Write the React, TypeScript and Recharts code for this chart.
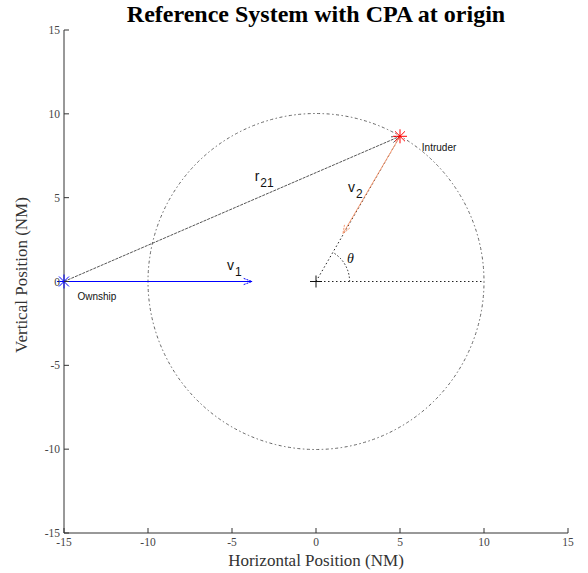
import {
  ComposedChart,
  XAxis,
  YAxis,
  Scatter,
  ReferenceLine,
  ReferenceDot,
} from "recharts";

document.body.style.margin = "0";

const xTicks = [-15, -10, -5, 0, 5, 10, 15];
const yTicks = [-15, -10, -5, 0, 5, 10, 15];

const ownship = [{ x: -15, y: 0 }];
const intruder = [{ x: 5, y: 8.66 }];
const cpaOrigin = [{ x: 0, y: 0 }];

const cpaRadius = 10;
const thetaRadius = 2;
const thetaDeg = 60;

const v1End = { x: -3.8, y: 0 };
const v2End = { x: 1.6, y: 2.85 };

const plainLabels = [
  { x: -14.2, y: -1.1, text: "Ownship" },
  { x: 6.3, y: 7.8, text: "Intruder" },
];

const vectorLabels = [
  { x: -3.65, y: 6.0, main: "r", sub: "21" },
  { x: 1.9, y: 5.35, main: "v", sub: "2" },
  { x: -5.3, y: 0.7, main: "v", sub: "1" },
];

const thetaLabel = { x: 1.85, y: 1.1, text: "θ" };

const SERIF = "'Liberation Serif', 'Times New Roman', serif";
const SANS = "'Liberation Sans', Arial, sans-serif";
const AXIS = "#333";
const TICK_TEXT = "#444";

const XTick = (props: any) => {
  const { x, y, payload } = props;
  return (
    <g>
      <line x1={x} y1={y} x2={x} y2={y - 5} stroke={AXIS} />
      <text x={x} y={y + 13} textAnchor="middle" fontSize={11.5} fontFamily={SERIF} fill={TICK_TEXT}>
        {payload.value}
      </text>
    </g>
  );
};

const YTick = (props: any) => {
  const { x, y, payload } = props;
  return (
    <g>
      <line x1={x} y1={y} x2={x + 5} y2={y} stroke={AXIS} />
      <text x={x - 4} y={y + 4} textAnchor="end" fontSize={11.5} fontFamily={SERIF} fill={TICK_TEXT}>
        {payload.value}
      </text>
    </g>
  );
};

const asterisk = (color: string, s: number) => (props: any) => {
  const { cx, cy } = props;
  const d = s * 0.71;
  return (
    <g>
      <line x1={cx - s} y1={cy} x2={cx + s} y2={cy} stroke={color} />
      <line x1={cx} y1={cy - s} x2={cx} y2={cy + s} stroke={color} />
      <line x1={cx - d} y1={cy - d} x2={cx + d} y2={cy + d} stroke={color} />
      <line x1={cx - d} y1={cy + d} x2={cx + d} y2={cy - d} stroke={color} />
    </g>
  );
};

const plusShape = (props: any) => {
  const { cx, cy } = props;
  return (
    <g>
      <line x1={cx - 6} y1={cy} x2={cx + 6} y2={cy} stroke="#111" />
      <line x1={cx} y1={cy - 6} x2={cx} y2={cy + 6} stroke="#111" />
    </g>
  );
};

const arrow =
  (color: string, dash: string | undefined, headDash: string | undefined) =>
  (props: any) => {
    const { x1, y1, x2, y2 } = props;
    const ang = Math.atan2(y2 - y1, x2 - x1);
    const len = 9;
    const spread = 0.35;
    const ax = x2 - len * Math.cos(ang - spread);
    const ay = y2 - len * Math.sin(ang - spread);
    const bx = x2 - len * Math.cos(ang + spread);
    const by = y2 - len * Math.sin(ang + spread);
    return (
      <g fill="none">
        <line x1={x1} y1={y1} x2={x2} y2={y2} stroke={color} strokeDasharray={dash} />
        <line x1={ax} y1={ay} x2={x2} y2={y2} stroke={color} strokeDasharray={headDash} />
        <line x1={bx} y1={by} x2={x2} y2={y2} stroke={color} strokeDasharray={headDash} />
      </g>
    );
  };

const dottedLine = (props: any) => {
  const { x1, y1, x2, y2 } = props;
  return <line x1={x1} y1={y1} x2={x2} y2={y2} stroke="#222" strokeDasharray="1.5 2.5" />;
};

const circleShape = (props: any) => {
  const { x1, y1, x2 } = props;
  return (
    <circle cx={x1} cy={y1} r={Math.abs(x2 - x1)} fill="none" stroke="#666" strokeDasharray="1.5 2.5 3 2.5" />
  );
};

const arcShape = (props: any) => {
  const { x1, y1, x2 } = props;
  const r = Math.abs(x2 - x1);
  const a = (thetaDeg * Math.PI) / 180;
  return (
    <path
      d={`M ${x1 + r} ${y1} A ${r} ${r} 0 0 0 ${x1 + r * Math.cos(a)} ${y1 - r * Math.sin(a)}`}
      fill="none"
      stroke="#222"
      strokeDasharray="1.5 2"
    />
  );
};

const textShape = (text: string) => (props: any) => (
  <text x={props.cx} y={props.cy} fontSize={10} fontFamily={SANS} fill="#111">
    {text}
  </text>
);

const vectorTextShape = (main: string, sub: string) => (props: any) => (
  <text x={props.cx} y={props.cy} fontSize={14} fontFamily={SANS} fill="#111">
    {main}
    <tspan dx={1} dy={6} fontSize={12}>
      {sub}
    </tspan>
  </text>
);

const thetaShape = (props: any) => (
  <text x={props.cx} y={props.cy} fontSize={14} fontStyle="italic" fontFamily={SERIF} fill="#111">
    {thetaLabel.text}
  </text>
);

export default function App() {
  return (
    <div style={{ position: "relative", width: 588, height: 573, background: "#fff" }}>
      <ComposedChart
        width={588}
        height={573}
        margin={{ top: 30, right: 20, bottom: 0, left: 0 }}
        style={{ position: "absolute", top: 0, left: 0 }}
      >
        <XAxis
          type="number"
          dataKey="x"
          domain={[-15, 15]}
          ticks={xTicks}
          height={40}
          tickSize={0}
          tickMargin={0}
          tickLine={false}
          tick={<XTick />}
          axisLine={{ stroke: AXIS }}
        />
        <YAxis
          type="number"
          dataKey="y"
          domain={[-15, 15]}
          ticks={yTicks}
          width={64}
          tickSize={0}
          tickMargin={0}
          tickLine={false}
          tick={<YTick />}
          axisLine={{ stroke: AXIS }}
        />
        <ReferenceLine
          segment={[cpaOrigin[0], { x: cpaRadius, y: 0 }]}
          shape={circleShape}
          ifOverflow="visible"
        />
        <ReferenceLine
          segment={[cpaOrigin[0], { x: cpaRadius, y: 0 }]}
          shape={dottedLine}
          ifOverflow="visible"
        />
        <ReferenceLine segment={[cpaOrigin[0], intruder[0]]} shape={dottedLine} ifOverflow="visible" />
        <ReferenceLine
          segment={[cpaOrigin[0], { x: thetaRadius, y: 0 }]}
          shape={arcShape}
          ifOverflow="visible"
        />
        <ReferenceLine
          segment={[ownship[0], intruder[0]]}
          shape={arrow("#555", "3 1", "2 1")}
          ifOverflow="visible"
        />
        <ReferenceLine
          segment={[ownship[0], v1End]}
          shape={arrow("#0000ff", undefined, "2 1")}
          ifOverflow="visible"
        />
        <ReferenceLine
          segment={[intruder[0], v2End]}
          shape={arrow("#f59a72", undefined, "2 1")}
          ifOverflow="visible"
        />
        <Scatter data={cpaOrigin} shape={plusShape} isAnimationActive={false} />
        <Scatter data={ownship} shape={asterisk("#0000ff", 7)} isAnimationActive={false} />
        <Scatter data={intruder} shape={asterisk("#ff0000", 7)} isAnimationActive={false} />
        {plainLabels.map((l) => (
          <ReferenceDot key={l.text} x={l.x} y={l.y} shape={textShape(l.text)} ifOverflow="visible" />
        ))}
        {vectorLabels.map((l) => (
          <ReferenceDot
            key={l.main + l.sub}
            x={l.x}
            y={l.y}
            shape={vectorTextShape(l.main, l.sub)}
            ifOverflow="visible"
          />
        ))}
        <ReferenceDot x={thetaLabel.x} y={thetaLabel.y} shape={thetaShape} ifOverflow="visible" />
      </ComposedChart>
      <div
        style={{
          position: "absolute",
          top: 1,
          left: 0,
          width: 632,
          textAlign: "center",
          fontFamily: SERIF,
          fontWeight: "bold",
          fontSize: 24,
          color: "#000",
        }}
      >
        Reference System with CPA at origin
      </div>
      <div
        style={{
          position: "absolute",
          top: 551,
          left: 0,
          width: 632,
          textAlign: "center",
          fontFamily: SERIF,
          fontSize: 17,
          color: "#333",
        }}
      >
        Horizontal Position (NM)
      </div>
      <div
        style={{
          position: "absolute",
          top: 276,
          left: 22,
          width: 0,
          height: 0,
          overflow: "visible",
        }}
      >
        <div
          style={{
            position: "absolute",
            left: -120,
            top: -11,
            width: 240,
            textAlign: "center",
            transform: "rotate(-90deg)",
            fontFamily: SERIF,
            fontSize: 17,
            color: "#333",
            whiteSpace: "nowrap",
          }}
        >
          Vertical Position (NM)
        </div>
      </div>
    </div>
  );
}
